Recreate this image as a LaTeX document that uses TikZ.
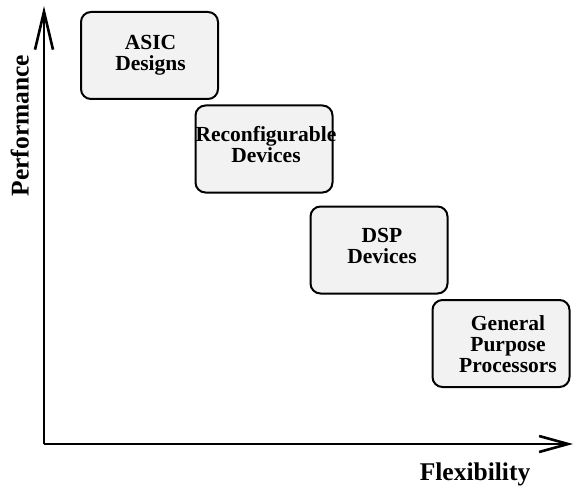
\documentclass[tikz,border=0pt]{standalone}
\usepackage{fontspec}
\setmainfont{Liberation Serif}
\usetikzlibrary{arrows.meta}
\definecolor{boxgray}{HTML}{F2F2F2}
\begin{document}
\begin{tikzpicture}[x=1pt,y=-1pt,
  box/.style={draw, line width=2pt, rounded corners=10pt, fill=boxgray,
    minimum width=137pt, minimum height=87pt, inner sep=0pt},
  boxtext/.style={font=\fontsize{21.5}{21}\selectfont\bfseries, align=center, inner sep=0pt},
  axislabel/.style={font=\fontsize{25.5}{30}\selectfont\bfseries, inner sep=0pt},
  axisline/.style={line width=2.6pt}]
  \useasboundingbox (0,0) rectangle (575,489);

  % axes
  \coordinate (origin) at (44,444);
  \coordinate (ytip) at (44,6);
  \coordinate (xtip) at (573,444);
  \draw[axisline, -{Straight Barb[length=38pt,width=18pt]}] (origin) -- (ytip);
  \draw[axisline, -{Straight Barb[length=29pt,width=16pt]}] (origin) -- (xtip);

  \node[axislabel, anchor=base, rotate=90] (perf) at (28.5,125.5) {Performance};
  \node[axislabel, anchor=base] (flex) at (475,480) {Flexibility};

  % technology boxes
  \node[box] (asic) at (149.5,55.5) {};
  \node[box] (reconf) at (264,149) {};
  \node[box] (dsp) at (379,250) {};
  \node[box] (gpp) at (501,343.5) {};

  \node[boxtext] (asict) at (150.5,55.3) {ASIC\\Designs};
  \node[boxtext] (reconft) at (266,144.5) {Reconfigurable\\Devices};
  \node[boxtext] (dspt) at (382,246.4) {DSP\\Devices};
  \node[boxtext] (gppt) at (508,343.7) {General\\Purpose\\Processors};
\end{tikzpicture}
\end{document}
